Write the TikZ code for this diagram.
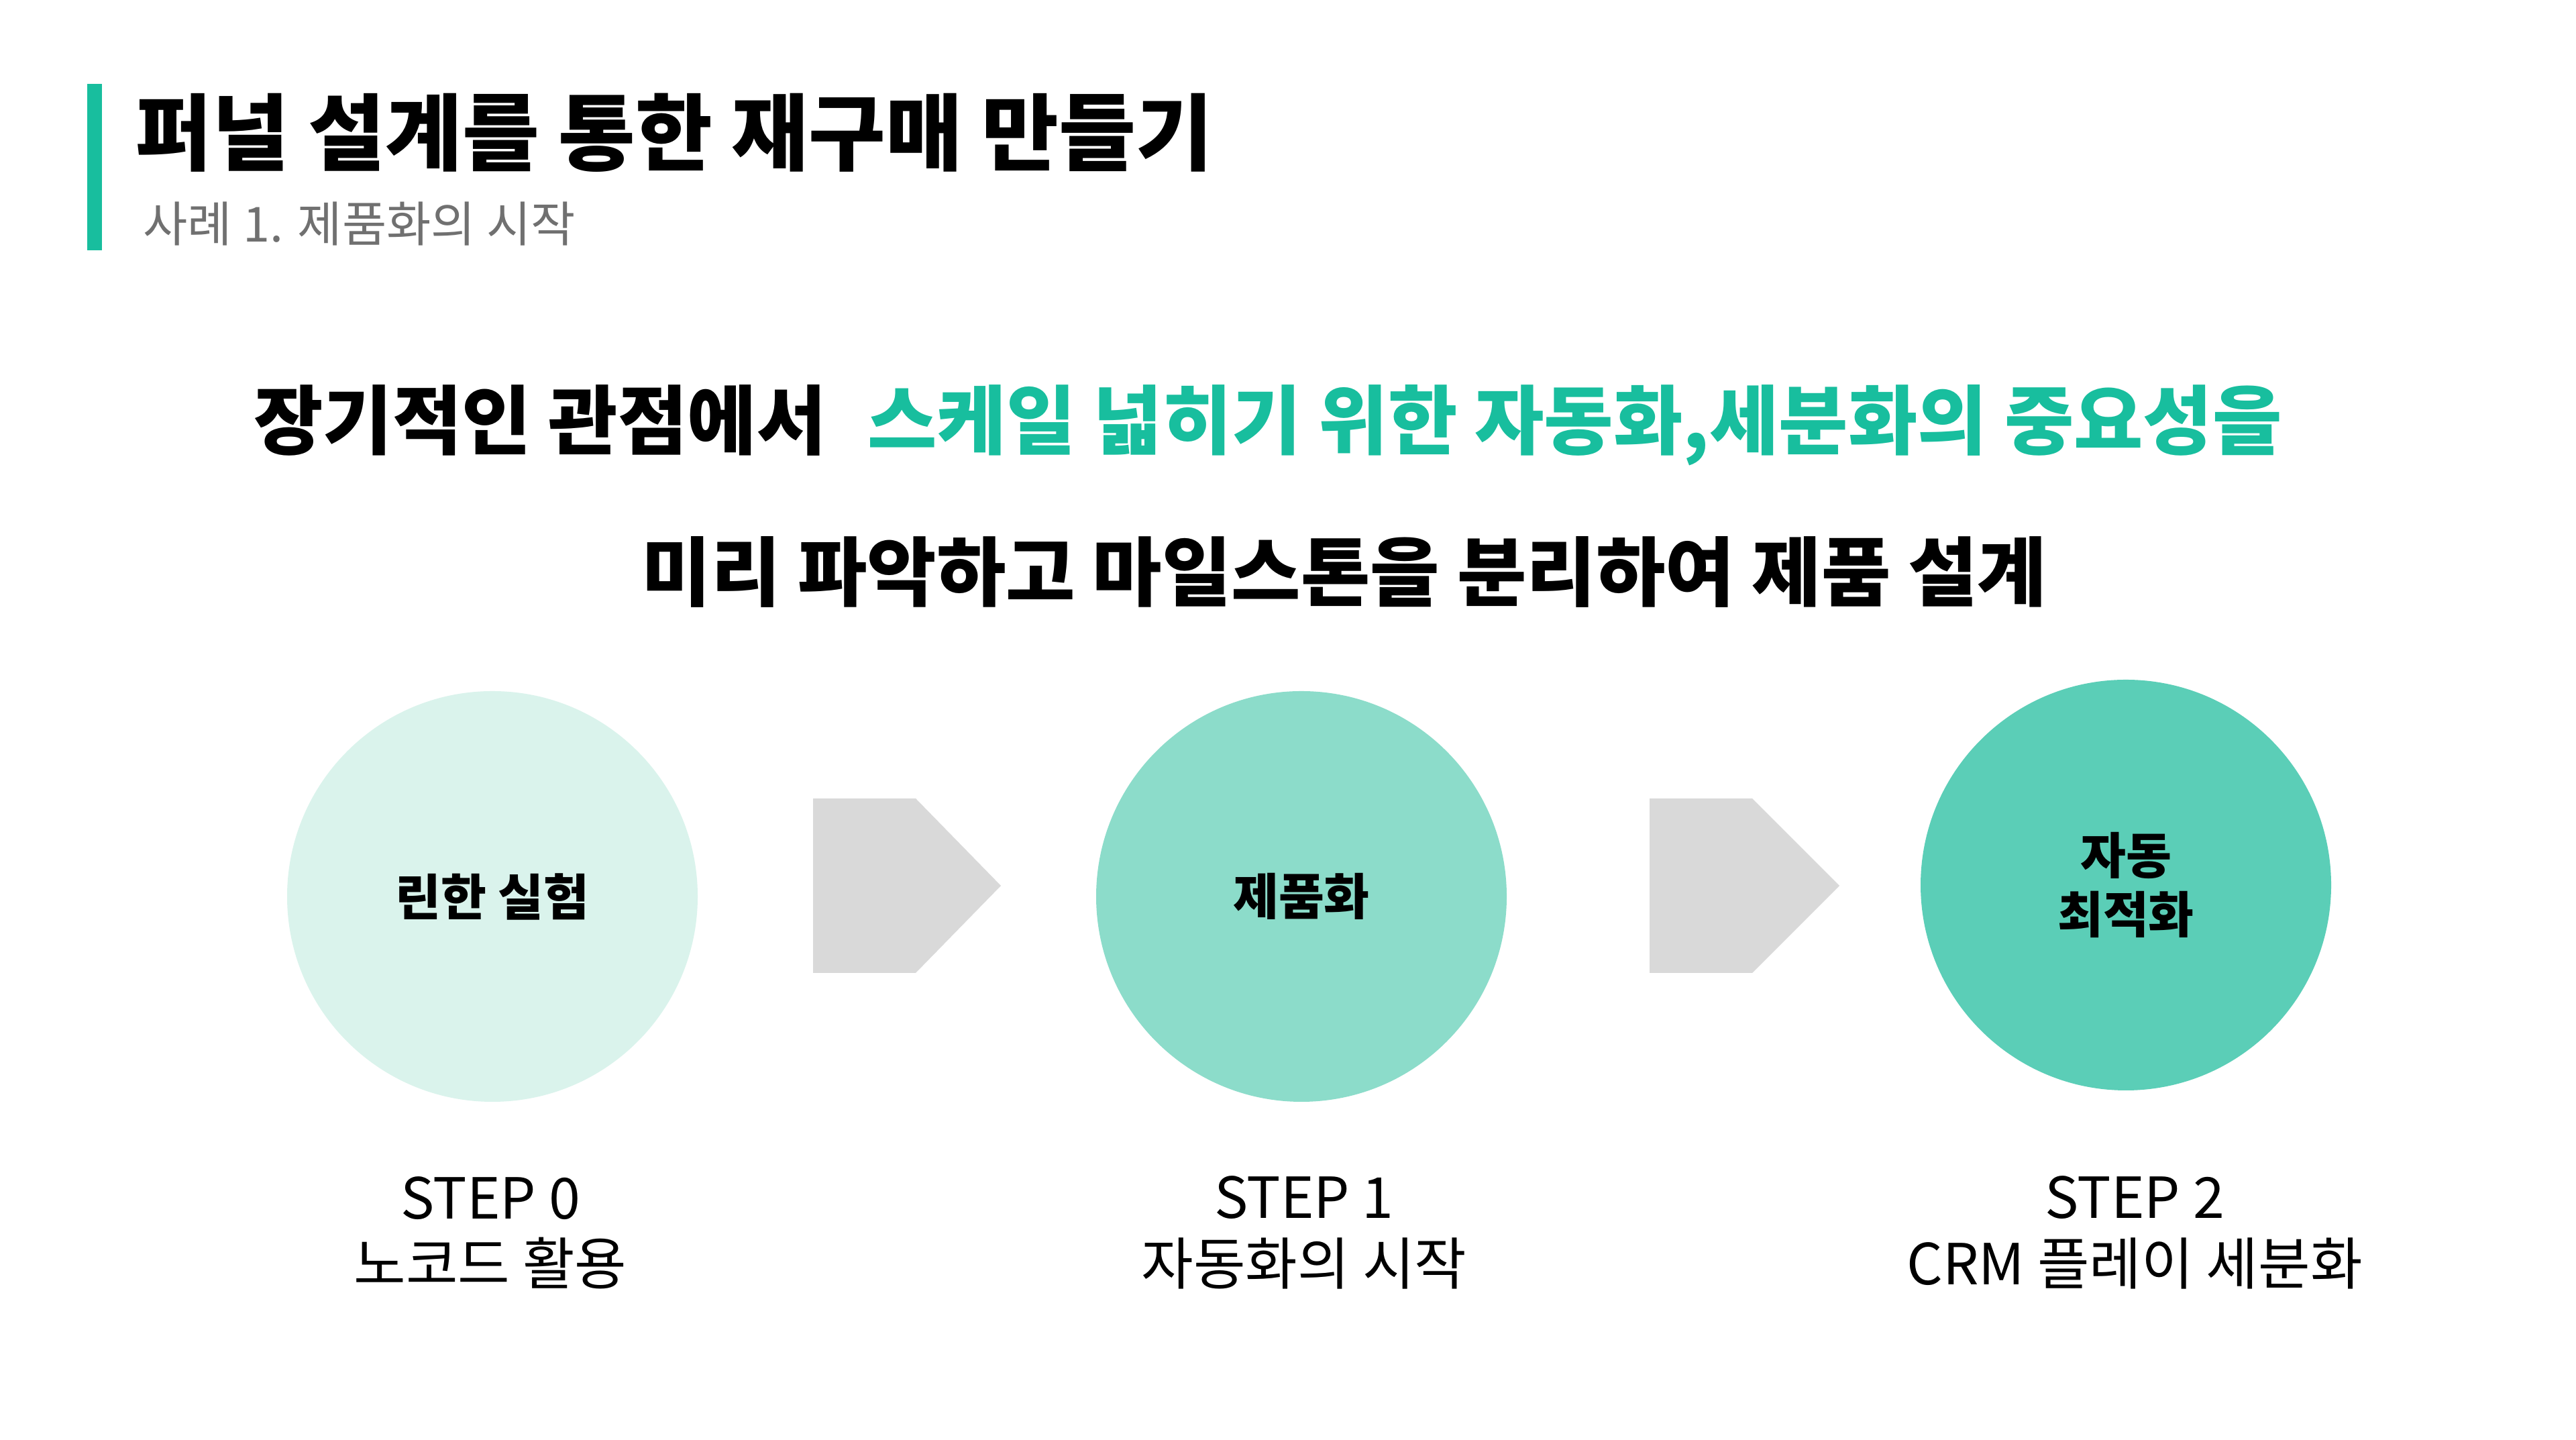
\documentclass[tikz,border=0pt]{standalone}
\usepackage{fontspec}
\setmainfont{Noto Sans CJK KR}

\definecolor{accent}{RGB}{24,190,158}
\definecolor{stageA}{RGB}{218,243,236}
\definecolor{stageB}{RGB}{140,220,202}
\definecolor{stageC}{RGB}{91,206,183}
\definecolor{chevron}{RGB}{217,217,217}
\definecolor{subgray}{RGB}{112,112,112}

\tikzset{
  stage/.style={circle, minimum size=6.12cm, inner sep=0pt, align=center,
    font=\fontsize{21}{25}\selectfont\bfseries},
  steplabel/.style={align=center, inner sep=0pt,
    font=\fontsize{24}{28}\selectfont},
  headline/.style={inner sep=0pt, font=\fontsize{32}{38}\selectfont\bfseries}
}

\begin{document}
\begin{tikzpicture}
  \useasboundingbox (0,0) rectangle (38.40,21.46);
  \fill[white] (0,0) rectangle (38.40,21.46);

  % title block
  \fill[accent] (1.30,20.21) rectangle (1.52,17.73);
  \node[anchor=west, inner sep=0pt, font=\fontsize{35.5}{40}\selectfont\bfseries] (title) at (2.01,19.48) {퍼널 설계를 통한 재구매 만들기};
  \node[anchor=west, inner sep=0pt, text=subgray, font=\fontsize{20.5}{24}\selectfont] (subtitle) at (2.13,18.12) {사례 1. 제품화의 시작};

  % headline
  \node[headline] (lineA) at (18.90,15.12) {장기적인 관점에서\hspace{0.55em}\textcolor{accent}{스케일 넓히기 위한 자동화,세분화의 중요성을}};
  \node[headline] (lineB) at (20.04,12.94) {미리 파악하고 마일스톤을 분리하여 제품 설계};

  % stages
  \node[stage, fill=stageA] (lean) at (7.34,8.10) {린한 실험};
  \node[stage, fill=stageB] (product) at (19.40,8.10) {제품화};
  \node[stage, fill=stageC] (auto) at (31.69,8.27) {자동\\최적화};

  \fill[chevron] (12.12,9.56) -- (13.65,9.56) -- (14.92,8.26) -- (13.65,6.96) -- (12.12,6.96) -- cycle;
  \fill[chevron] (24.59,9.56) -- (26.12,9.56) -- (27.42,8.26) -- (26.12,6.96) -- (24.59,6.96) -- cycle;

  % step labels
  \node[steplabel] (step0) at (7.31,3.09) {STEP 0\\노코드 활용};
  \node[steplabel] (step1) at (19.44,3.09) {STEP 1\\자동화의 시작};
  \node[steplabel] (step2) at (31.82,3.09) {STEP 2\\CRM 플레이 세분화};
\end{tikzpicture}
\end{document}
